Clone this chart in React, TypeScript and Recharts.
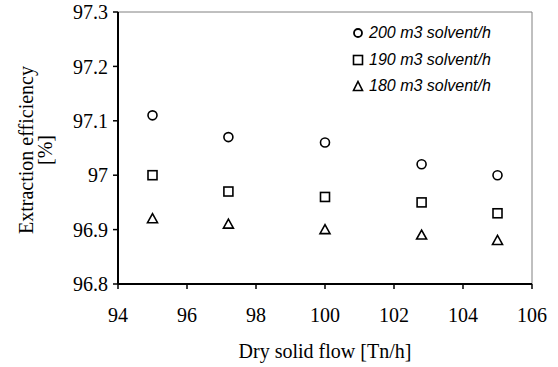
import React from 'react';
import {
  ScatterChart,
  Scatter,
  XAxis,
  YAxis,
  ReferenceLine,
} from 'recharts';

const flows = [95, 97.2, 100, 102.8, 105];
const eff200 = [97.11, 97.07, 97.06, 97.02, 97.0];
const eff190 = [97.0, 96.97, 96.96, 96.95, 96.93];
const eff180 = [96.92, 96.91, 96.9, 96.89, 96.88];

const xTicks = [94, 96, 98, 100, 102, 104, 106];
const yTicks = [96.8, 96.9, 97.0, 97.1, 97.2, 97.3];

const seriesNames = ['200 m3 solvent/h', '190 m3 solvent/h', '180 m3 solvent/h'];

const toPoints = (ys: number[]) => flows.map((x, i) => ({ x, y: ys[i] }));

const serif = '"Liberation Serif", "Times New Roman", serif';
const sans = '"Liberation Sans", Arial, sans-serif';

const CircleMark = ({ cx, cy }: any) => (
  <circle cx={cx} cy={cy} r={4.5} fill="#fff" stroke="#000" strokeWidth={1.6} />
);

const SquareMark = ({ cx, cy }: any) => (
  <rect x={cx - 4.5} y={cy - 4.5} width={9} height={9} fill="#fff" stroke="#000" strokeWidth={1.6} />
);

const TriangleMark = ({ cx, cy }: any) => (
  <polygon
    points={`${cx},${cy - 5} ${cx + 5},${cy + 4} ${cx - 5},${cy + 4}`}
    fill="#fff"
    stroke="#000"
    strokeWidth={1.6}
  />
);

const legendIcons = [
  <circle cx={6} cy={6} r={4} fill="none" stroke="#000" strokeWidth={1.8} />,
  <rect x={1.5} y={1.5} width={9} height={9} fill="none" stroke="#000" strokeWidth={1.6} />,
  <polygon points="6,1.5 10.5,10.5 1.5,10.5" fill="none" stroke="#000" strokeWidth={1.6} />,
];

// legend sits inside the plot, top right
const LegendBox = () => (
  <div
    style={{
      position: 'absolute',
      top: 20,
      left: 352,
      fontFamily: sans,
      fontStyle: 'italic',
      fontSize: 16,
      color: '#000',
    }}
  >
    {seriesNames.map((name, i) => (
      <div key={name} style={{ display: 'flex', alignItems: 'center', height: 26.5, whiteSpace: 'nowrap' }}>
        <svg width={12} height={12} style={{ marginRight: 5 }}>
          {legendIcons[i]}
        </svg>
        <span>{name}</span>
      </div>
    ))}
  </div>
);

const XTick = ({ x, y, payload }: any) => (
  <text x={x} y={y} dy="0.71em" textAnchor="middle" fontFamily={serif} fontSize={20} fill="#000">
    {payload.value}
  </text>
);

const YTick = ({ x, y, payload }: any) => (
  <text x={x} y={y} dy="0.355em" textAnchor="end" fontFamily={serif} fontSize={20} fill="#000">
    {String(Number(Number(payload.value).toFixed(1)))}
  </text>
);

const YTitle = () => {
  const cy = 150;
  return (
    <g fontFamily={serif} fontSize={20} fill="#000">
      <text x={33} y={cy} textAnchor="middle" transform={`rotate(-90, 33, ${cy})`}>
        Extraction efficiency
      </text>
      <text x={52} y={cy} textAnchor="middle" transform={`rotate(-90, 52, ${cy})`}>
        [%]
      </text>
    </g>
  );
};

const XTitle = () => (
  <text x={325} y={358} textAnchor="middle" fontFamily={serif} fontSize={20} fill="#000">
    Dry solid flow [Tn/h]
  </text>
);

export default function App() {
  return (
    <div
      style={{
        position: 'absolute',
        left: 0,
        top: 0,
        width: 558,
        height: 367,
        background: '#fff',
        fontFamily: serif,
      }}
    >
      <ScatterChart width={558} height={367} margin={{ top: 12, right: 26, bottom: 0, left: 0 }}>
        <XAxis
          type="number"
          dataKey="x"
          domain={[94, 106]}
          ticks={xTicks}
          height={83}
          axisLine={{ stroke: '#000', strokeWidth: 2 }}
          tickLine={{ stroke: '#000', strokeWidth: 1.5 }}
          tickSize={5}
          tickMargin={19}
          tick={<XTick />}
          label={{ content: <XTitle /> }}
        />
        <YAxis
          type="number"
          dataKey="y"
          domain={[96.8, 97.3]}
          ticks={yTicks}
          width={118}
          axisLine={{ stroke: '#000', strokeWidth: 2 }}
          tickLine={{ stroke: '#000', strokeWidth: 1.5 }}
          tickSize={5}
          tickMargin={5}
          tick={<YTick />}
          label={{ content: <YTitle /> }}
        />
        <ReferenceLine y={97.3} stroke="#808080" strokeWidth={1} />
        <ReferenceLine x={106} stroke="#808080" strokeWidth={1} />
        <Scatter name={seriesNames[0]} data={toPoints(eff200)} shape={<CircleMark />} isAnimationActive={false} />
        <Scatter name={seriesNames[1]} data={toPoints(eff190)} shape={<SquareMark />} isAnimationActive={false} />
        <Scatter name={seriesNames[2]} data={toPoints(eff180)} shape={<TriangleMark />} isAnimationActive={false} />
      </ScatterChart>
      <LegendBox />
    </div>
  );
}
